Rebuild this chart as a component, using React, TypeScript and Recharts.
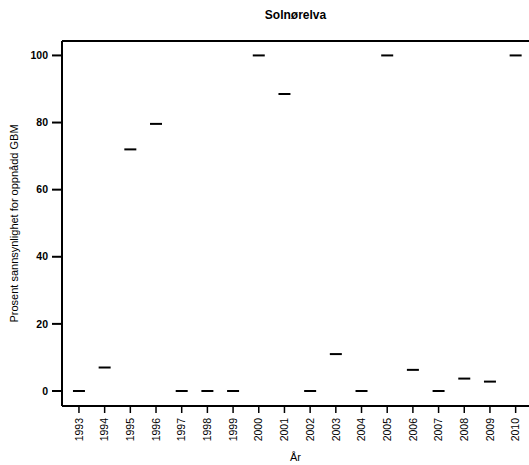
import { ScatterChart, Scatter, XAxis, YAxis, ReferenceLine } from 'recharts';

const years = [
  1993, 1994, 1995, 1996, 1997, 1998, 1999, 2000, 2001,
  2002, 2003, 2004, 2005, 2006, 2007, 2008, 2009, 2010,
];
const probabilities = [
  0, 7, 72, 79.6, 0, 0, 0, 100, 88.5,
  0, 11, 0, 100, 6.3, 0, 3.7, 2.8, 100,
];
const yTicks = [0, 20, 40, 60, 80, 100];

const title = 'Solnørelva';
const xTitle = 'År';
const yTitle = 'Prosent sannsynlighet for oppnådd GBM';

const FONT = '"Liberation Sans", Arial, Helvetica, sans-serif';
const Y_MAX = 104.3;

const data = years.map((year, i) => ({ year, value: probabilities[i] }));

// short horizontal dash instead of a dot
const Dash = (props: any) => {
  const { cx, cy } = props;
  if (cx == null || cy == null) return null;
  return <line x1={cx - 6} x2={cx + 6} y1={cy} y2={cy} stroke="#000" strokeWidth={2} />;
};

const YearTick = ({ x, y, payload }: any) => (
  <text
    x={x}
    y={y}
    transform={`rotate(-90 ${x} ${y})`}
    textAnchor="end"
    dy="0.35em"
    fontSize={10.5}
    fontFamily={FONT}
    fill="#000"
  >
    {payload.value}
  </text>
);

const ValueTick = ({ x, y, payload }: any) => (
  <text
    x={x}
    y={y}
    textAnchor="end"
    dy="0.35em"
    fontSize={10.5}
    fontWeight="bold"
    fontFamily={FONT}
    fill="#000"
  >
    {payload.value}
  </text>
);

export default function App() {
  return (
    <div style={{ position: 'absolute', left: 0, top: 0, width: 529, height: 465, background: '#fff' }}>
      <div
        style={{
          position: 'absolute',
          left: 62,
          width: 467,
          top: 8,
          textAlign: 'center',
          fontFamily: FONT,
          fontWeight: 'bold',
          fontSize: 12,
          lineHeight: '14px',
          color: '#000',
        }}
      >
        {title}
      </div>
      <ScatterChart width={529} height={465} margin={{ top: 41, right: 0, bottom: 0, left: 0 }}>
        <XAxis
          type="number"
          dataKey="year"
          domain={[1992.34, 2010.52]}
          allowDataOverflow
          ticks={years}
          interval={0}
          height={59}
          tickSize={7}
          tickMargin={5}
          tick={<YearTick />}
          tickLine={{ stroke: '#000', strokeWidth: 1.5 }}
          axisLine={{ stroke: '#000', strokeWidth: 2 }}
          label={{
            content: ({ viewBox }: any) => (
              <text
                x={viewBox.x + viewBox.width / 2}
                y={461}
                textAnchor="middle"
                fontSize={11}
                fontFamily={FONT}
                fill="#000"
              >
                {xTitle}
              </text>
            ),
          }}
        />
        <YAxis
          type="number"
          dataKey="value"
          domain={[-4.47, Y_MAX]}
          allowDataOverflow
          ticks={yTicks}
          interval={0}
          width={62}
          tickSize={10}
          tickMargin={4}
          tick={<ValueTick />}
          tickLine={{ stroke: '#000', strokeWidth: 2 }}
          axisLine={{ stroke: '#000', strokeWidth: 2 }}
          label={{
            content: ({ viewBox }: any) => {
              const cx = 18;
              const cy = viewBox.y + viewBox.height / 2;
              return (
                <text
                  x={cx}
                  y={cy}
                  transform={`rotate(-90 ${cx} ${cy})`}
                  textAnchor="middle"
                  fontSize={11}
                  fontFamily={FONT}
                  fill="#000"
                >
                  {yTitle}
                </text>
              );
            },
          }}
        />
        <ReferenceLine y={Y_MAX} stroke="#000" strokeWidth={2} ifOverflow="visible" />
        <Scatter data={data} shape={<Dash />} isAnimationActive={false} />
      </ScatterChart>
    </div>
  );
}
